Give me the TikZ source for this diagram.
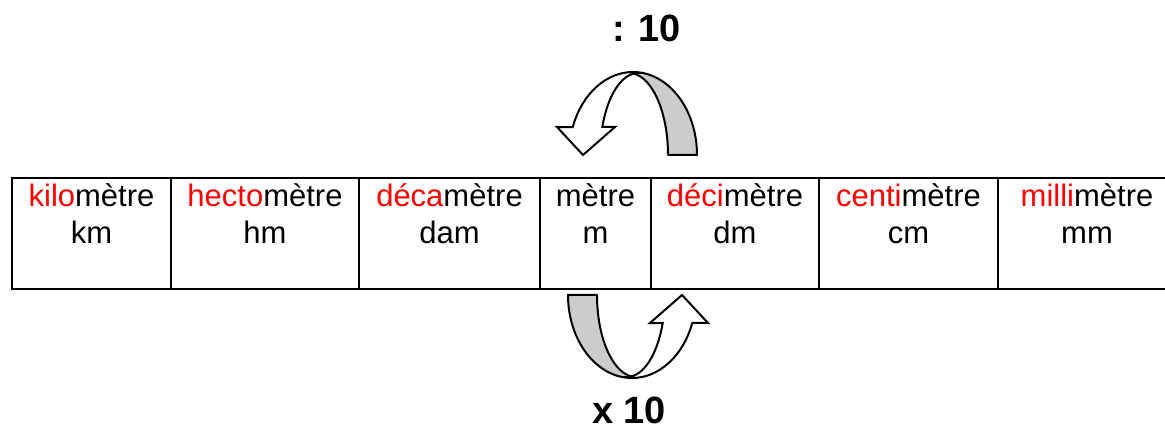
\documentclass[tikz,border=0pt]{standalone}
\usepackage{fontspec}
\setmainfont{Liberation Sans}
\definecolor{bandgray}{RGB}{204,204,204}
\definecolor{pfx}{RGB}{255,0,0}
\newcommand{\curvedarrowshape}{%
  \draw[band] (697,155) arc[start angle=0,end angle=-90,x radius=64,y radius=83]
    -- (629,73) arc[start angle=-90,end angle=0,x radius=39,y radius=82] -- cycle;
  \draw[arrowbody] (633,72) arc[start angle=-90,end angle=-160.3,x radius=64,y radius=83]
    -- (557,127) -- (583,155) -- (615,127) -- (602.3,127)
    arc[start angle=-160,end angle=-90,x radius=38,y radius=82] -- cycle;
}
\begin{document}
\begin{tikzpicture}[x=0.5pt,y=-0.5pt,
  cell/.style={draw, line width=1.35pt, inner sep=0pt, minimum height=55.5pt},
  txt/.style={anchor=base, inner sep=0pt, font=\fontsize{15.5}{18}\selectfont},
  lbl/.style={anchor=base, inner sep=0pt, font=\fontsize{19}{22}\selectfont\bfseries},
  band/.style={draw, line width=1pt, fill=bandgray, line join=round},
  arrowbody/.style={draw, line width=1pt, fill=white, line join=miter}]
\useasboundingbox (0,0) rectangle (1165,432);
\clip (0,0) rectangle (1165,432);

% table cells
\node[cell, minimum width=79.5pt] (c1) at (91.5,233.5) {};
\node[cell, minimum width=94pt]   (c2) at (265,233.5) {};
\node[cell, minimum width=90.5pt] (c3) at (449.5,233.5) {};
\node[cell, minimum width=55.5pt] (c4) at (595.5,233.5) {};
\node[cell, minimum width=84pt]   (c5) at (735,233.5) {};
\node[cell, minimum width=89.5pt] (c6) at (908.5,233.5) {};
\node[cell, minimum width=89pt]   (c7) at (1087,233.5) {};

% texts
\node[txt] (t1a) at (91.5,207) {\textcolor{pfx}{kilo}mètre};
\node[txt] (t1b) at (91.5,244) {km};
\node[txt] (t2a) at (265,207) {\textcolor{pfx}{hecto}mètre};
\node[txt] (t2b) at (265,244) {hm};
\node[txt] (t3a) at (449.5,207) {\textcolor{pfx}{déca}mètre};
\node[txt] (t3b) at (449.5,244) {dam};
\node[txt] (t4a) at (595.5,207) {mètre};
\node[txt] (t4b) at (595.5,244) {m};
\node[txt] (t5a) at (735,207) {\textcolor{pfx}{déci}mètre};
\node[txt] (t5b) at (735,244) {dm};
\node[txt] (t6a) at (908.5,207) {\textcolor{pfx}{centi}mètre};
\node[txt] (t6b) at (908.5,244) {cm};
\node[txt] (t7a) at (1087,207) {\textcolor{pfx}{milli}mètre};
\node[txt] (t7b) at (1087,244) {mm};

% curved arrows
\curvedarrowshape
\begin{scope}[rotate around={180:(632.5,225)}]
  \curvedarrowshape
\end{scope}

% labels
\node[lbl] (div) at (646.5,42) {: 10};
\node[lbl] (mul) at (629,423) {x 10};
\end{tikzpicture}
\end{document}
